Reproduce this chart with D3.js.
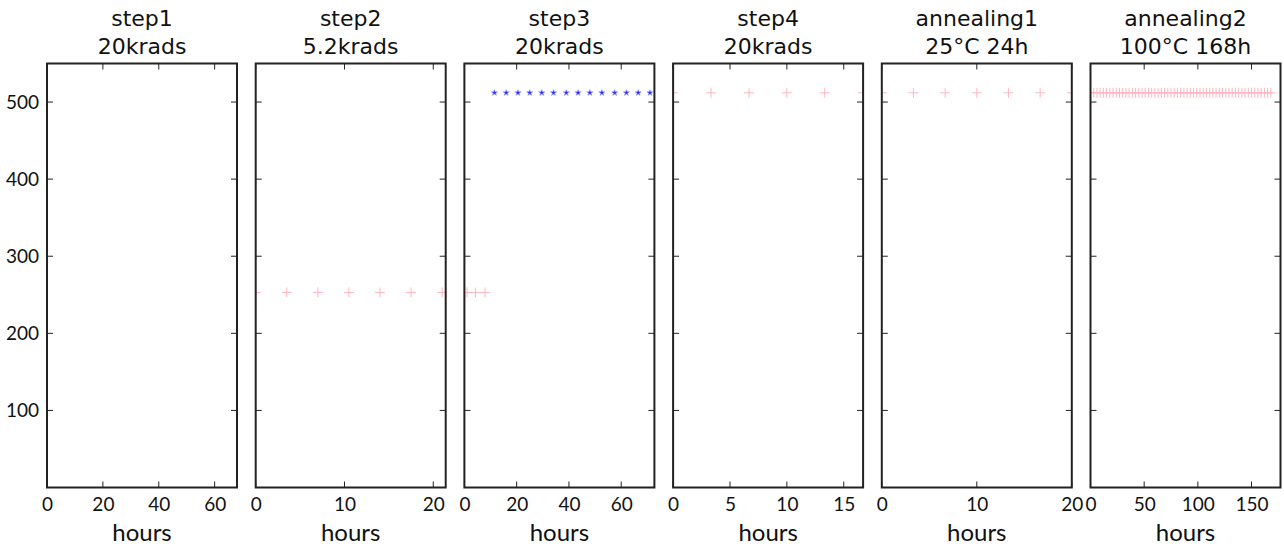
<!DOCTYPE html>
<html><head><meta charset="utf-8">
<script src="https://cdn.jsdelivr.net/npm/d3@7"></script>
<style>body{margin:0;background:#fff;} svg{display:block;}</style>
</head><body>
<svg id="c" width="1284" height="548"></svg>
<script>
// ---- data ----
const titleLine1 = ["step1","step2","step3","step4","annealing1","annealing2"];
const titleLine2 = ["20krads","5.2krads","20krads","20krads","25°C 24h","100°C 168h"];
const xMax = [68, 21.4, 72.7, 16.7, 20, 177];
const xTickVals = [[0,20,40,60],[0,10,20],[0,20,40,60],[0,5,10,15],[0,10,20],[0,50,100,150]];
const yTickVals = [100,200,300,400,500];
const yDomain = [0, 550];

const step2Hours = [0,3.5,7,10.5,14,17.5,21];
const step2Values = [253,253,253,253,253,253,253];
const step3PinkHours = [1,4.2,7.9];
const step3PinkValues = [253,253,253];
const step3BlueHours = [11.5,16,20.5,25,29.6,34.1,39,43.5,48,52.6,57.5,62,66.5,71];
const step3BlueValues = [512,512,512,512,512,512,512,512,512,512,512,512,512,512];
const step4Hours = [0,3.33,6.67,10,13.33,16.67];
const step4Values = [512,512,512,512,512,512];
const anneal1Hours = [0,3.33,6.67,10,13.33,16.67,20];
const anneal1Values = [512,512,512,512,512,512,512];
const anneal2Hours = [0,3,6,9,12,15,18,21,24,27,30,33,36,39,42,45,48,51,54,57,60,63,66,69,72,75,78,81,84,87,90,93,96,99,102,105,108,111,114,117,120,123,126,129,132,135,138,141,144,147,150,153,156,159,162,165,168];
const anneal2Values = [512,512,512,512,512,512,512,512,512,512,512,512,512,512,512,512,512,512,512,512,512,512,512,512,512,512,512,512,512,512,512,512,512,512,512,512,512,512,512,512,512,512,512,512,512,512,512,512,512,512,512,512,512,512,512,512,512];

const panelSeries = [
  [],
  [[step2Hours, step2Values, "plus"]],
  [[step3PinkHours, step3PinkValues, "plus"], [step3BlueHours, step3BlueValues, "star"]],
  [[step4Hours, step4Values, "plus"]],
  [[anneal1Hours, anneal1Values, "plus"]],
  [[anneal2Hours, anneal2Values, "plus"]]
];

// ---- layout ----
const svg = d3.select("#c");
const left0 = 47, pitch = 208.7, pw = 190, plotTop = 63.5, plotBottom = 487.5;
const tickLen = 6;
const frameColor = "#222";
const y = d3.scaleLinear().domain(yDomain).range([plotBottom, plotTop]);

titleLine1.forEach((t, i) => {
  const x0 = left0 + i * pitch;
  const x = d3.scaleLinear().domain([0, xMax[i]]).range([x0, x0 + pw]);
  const g = svg.append("g");

  const cid = "clip" + i;
  svg.append("clipPath").attr("id", cid).append("rect")
    .attr("x", x0).attr("y", plotTop).attr("width", pw).attr("height", plotBottom - plotTop);

  const marks = g.append("g").attr("clip-path", `url(#${cid})`);
  panelSeries[i].forEach(([hs, vs, kind]) => {
    const pts = hs.map((h, k) => [h, vs[k]]);
    if (kind === "plus") {
      marks.append("g").selectAll("path").data(pts).join("path")
        .attr("d", d => {
          const cx = x(d[0]), cy = y(d[1]), r = 5;
          return `M${cx - r},${cy}H${cx + r}M${cx},${cy - r}V${cy + r}`;
        })
        .attr("stroke", "#ffb6c1").attr("stroke-width", 1).attr("fill", "none");
    } else {
      marks.append("g").selectAll("path").data(pts).join("path")
        .attr("transform", d => `translate(${x(d[0])},${y(d[1])})`)
        .attr("d", d3.symbol(d3.symbolStar, 12))
        .attr("fill", "#2a2aff").attr("stroke", "#9a9aff").attr("stroke-width", 0.6);
    }
  });

  const xb = d3.axisBottom(x).tickValues(xTickVals[i]).tickSize(0).tickPadding(10).tickFormat(d3.format("d"));
  const gx = g.append("g").attr("transform", `translate(0,${plotBottom})`).call(xb);
  gx.select(".domain").remove();
  gx.selectAll("text").attr("font-family", "Lato, 'Open Sans', sans-serif").attr("font-size", 19).attr("fill", "#111");

  const tk = g.append("g").attr("stroke", frameColor).attr("stroke-width", 1);
  xTickVals[i].forEach(v => {
    tk.append("line").attr("x1", x(v)).attr("x2", x(v)).attr("y1", plotBottom).attr("y2", plotBottom - tickLen);
    tk.append("line").attr("x1", x(v)).attr("x2", x(v)).attr("y1", plotTop).attr("y2", plotTop + tickLen);
  });
  yTickVals.forEach(v => {
    tk.append("line").attr("x1", x0).attr("x2", x0 + tickLen).attr("y1", y(v)).attr("y2", y(v));
    tk.append("line").attr("x1", x0 + pw).attr("x2", x0 + pw - tickLen).attr("y1", y(v)).attr("y2", y(v));
  });

  if (i === 0) {
    const ya = d3.axisLeft(y).tickValues(yTickVals).tickSize(0).tickPadding(8).tickFormat(d3.format("d"));
    const gy = g.append("g").attr("transform", `translate(${x0},0)`).call(ya);
    gy.select(".domain").remove();
    gy.selectAll("text").attr("font-family", "Lato, 'Open Sans', sans-serif").attr("font-size", 19).attr("fill", "#111");
  }

  g.append("rect").attr("x", x0).attr("y", plotTop).attr("width", pw).attr("height", plotBottom - plotTop)
    .attr("fill", "none").attr("stroke", frameColor).attr("stroke-width", 2);

  const cx = x0 + pw / 2;
  g.append("text").attr("x", cx).attr("y", 26).attr("text-anchor", "middle")
    .attr("font-family", "'DejaVu Sans', sans-serif").attr("font-size", 22).attr("fill", "#111").text(t);
  g.append("text").attr("x", cx).attr("y", 54).attr("text-anchor", "middle")
    .attr("font-family", "'DejaVu Sans', sans-serif").attr("font-size", 22).attr("fill", "#111").text(titleLine2[i]);

  g.append("text").attr("x", cx).attr("y", 541).attr("text-anchor", "middle")
    .attr("font-family", "Lato, 'Open Sans', sans-serif").attr("font-size", 24).attr("fill", "#111").text("hours");
});
</script>
</body></html>
